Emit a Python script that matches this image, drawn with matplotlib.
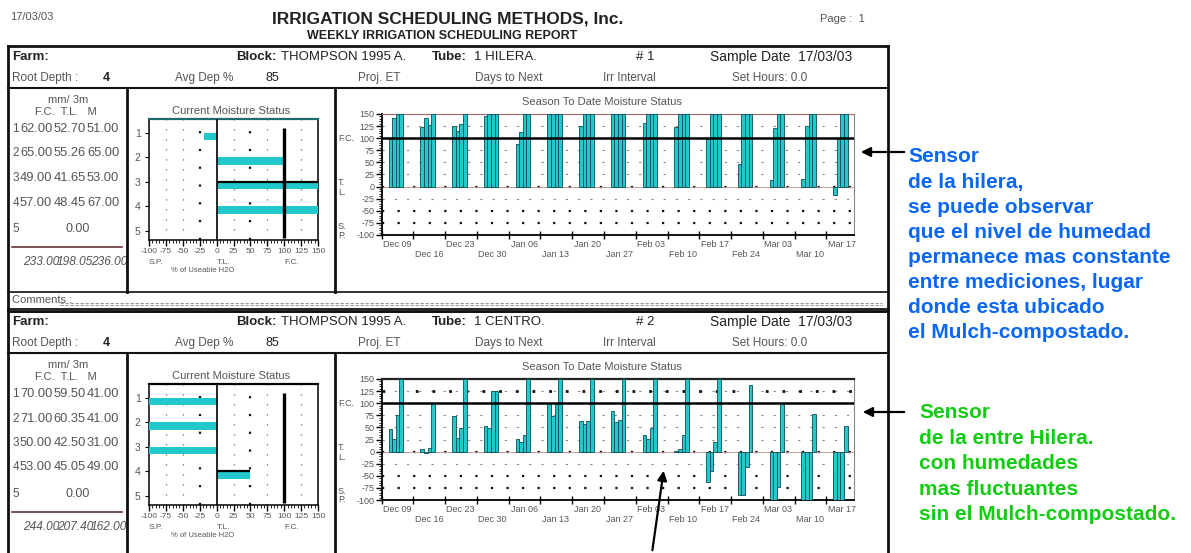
import matplotlib
matplotlib.use('Agg')
import matplotlib.pyplot as plt
from matplotlib import transforms

plt.rcParams['font.family'] = ['Liberation Sans', 'DejaVu Sans']

W, H = 1191, 553

# ---------------- data ----------------
report_date = '17/03/03'
block_name = 'THOMPSON 1995 A.'
tubes = ['1 HILERA.', '1 CENTRO.']
tube_nums = ['# 1', '# 2']
root_depth = '4'
avg_dep = '85'
set_hours = '0.0'

depth_rows = [1, 2, 3, 4]
fc_hilera = [62.00, 65.00, 49.00, 57.00]
tl_hilera = [52.70, 55.26, 41.65, 48.45]
m_hilera = [51.00, 65.00, 53.00, 67.00]
tot_hilera = [233.00, 198.05, 236.00]

fc_centro = [70.00, 71.00, 50.00, 53.00]
tl_centro = [59.50, 60.35, 42.50, 45.05]
m_centro = [41.00, 41.00, 31.00, 49.00]
tot_centro = [244.00, 207.40, 162.00]

# current moisture status, % of useable H2O per depth
cur_hilera = [-18, 100, 150, 150]
cur_centro = [-100, -100, -100, 50]

weeks = ['Dec 09', 'Dec 16', 'Dec 23', 'Dec 30', 'Jan 06', 'Jan 13', 'Jan 20',
         'Jan 27', 'Feb 03', 'Feb 10', 'Feb 17', 'Feb 24', 'Mar 03', 'Mar 10', 'Mar 17']
reading_days = [1.9, 2.7, 3.5, 4.3]   # day of each reading inside the week

season_hilera = [
    [100, 141, 150, 150], [124, 141, 127, 150], [126, 115, 129, 150],
    [145, 150, 150, 150], [89, 112, 150, 150], [150, 150, 150, 150],
    [126, 150, 150, 150], [150, 150, 150, 150], [132, 150, 150, 150],
    [123, 150, 150, 150], [100, 150, 150, 150], [47, 150, 150, 150],
    [14, 122, 150, 150], [15, 125, 150, 150], [-17, 100, 150, 150]]

season_centro = [
    [46, 27, 75, 150], [6, -3, 7, 100], [74, 28, 48, 150],
    [53, 48, 126, 126], [26, 19, 34, 150], [100, 74, 100, 150],
    [64, 58, 64, 150], [84, 62, 65, 150], [34, 26, 48, 150],
    [2, 5, 34, 150], [-63, -41, 20, 150], [-89, -89, -32, 138],
    [-100, -100, -73, 100], [-100, -100, -100, 78], [-100, -100, -100, 52]]

note_hilera = ['Sensor', 'de la hilera,', 'se puede observar', 'que el nivel de humedad',
               'permanece mas constante', 'entre mediciones, lugar',
               'donde esta ubicado', 'el Mulch-compostado.']
note_centro = ['Sensor', 'de la entre Hilera.', 'con humedades',
               'mas fluctuantes', 'sin el Mulch-compostado.']

BAR = '#22c8cc'
EDGE = '#0b4f55'
INK = '#222222'
GREY = '#555555'

fig = plt.figure(figsize=(W / 100, H / 100), dpi=100)
fig.patch.set_facecolor('white')


def add_ax(x0, y0, x1, y1):
    return fig.add_axes([x0 / W, 1 - y1 / H, (x1 - x0) / W, (y1 - y0) / H])


def season_chart(ax, data, top_dark):
    for w, vals in enumerate(data):
        xs = [w * 7 + d for d in reading_days]
        ax.bar(xs, vals, width=0.8, color=BAR, edgecolor=EDGE, linewidth=0.6, zorder=3)
    ax.set_xlim(0, 104)
    ax.set_ylim(-100, 150)
    for lv in [125, 75, 50, 25, -25]:
        ax.axhline(lv, color='#888888', lw=0.8, ls=(0, (2, 9)), zorder=1)
    for lv in [-50, -75, 0]:
        ax.axhline(lv, color='#111111', lw=1.6, ls=(0, (1, 6)), zorder=1)
    if top_dark:
        ax.axhline(125, color='#111111', lw=2, ls=(0, (1, 5)), zorder=1)
    ax.axhline(0, color='#cc8888', lw=0.6, zorder=2)
    ax.axhline(100, color='black', lw=1.8, zorder=4)
    ax.set_yticks(range(-100, 151, 25))
    ax.set_yticks(range(-100, 151, 5), minor=True)
    ax.set_yticklabels([str(v) for v in range(-100, 151, 25)], fontsize=6.5, color=GREY)
    ax.set_xticks([w * 7 for w in range(len(weeks))])
    ax.set_xticks(range(0, 104), minor=True)
    ax.set_xticklabels([])
    ax.tick_params(axis='y', which='major', length=4, width=1, pad=1)
    ax.tick_params(axis='y', which='minor', length=2, width=0.6)
    ax.tick_params(axis='x', which='major', direction='inout', length=6, width=1)
    ax.tick_params(axis='x', which='minor', length=0)
    for s in ['left', 'bottom']:
        ax.spines[s].set_linewidth(1.3)
    ax.spines['right'].set_color('#888888')
    ax.spines['right'].set_linewidth(0.8)
    ax.spines['top'].set_color('#222222' if top_dark else '#aa6666')
    ax.spines['top'].set_linewidth(1.6 if top_dark else 0.8)
    tr = transforms.blended_transform_factory(ax.transData, ax.transAxes)
    for w, lab in enumerate(weeks):
        yy = -0.075 if w % 2 == 0 else -0.16
        ax.text(w * 7 + 3.4, yy, lab, transform=tr, ha='center', va='center',
                fontsize=6.5, color=GREY)
    ty = transforms.blended_transform_factory(ax.transAxes, ax.transData)
    ax.text(-0.093, 100, 'F.C.', transform=ty, fontsize=6.5, color=GREY, va='center')
    for lab, yv in [('T.', 8), ('L.', -12), ('S.', -82), ('P.', -100)]:
        ax.text(-0.093, yv, lab, transform=ty, fontsize=6.5, color=GREY, va='center')


def moisture_chart(ax, vals, edge_row, top_teal):
    ax.barh(depth_rows, vals, height=0.3, align='edge', color=BAR, zorder=3)
    ax.hlines(edge_row, 0, vals[edge_row - 1], color='black', lw=1.6, zorder=4)
    ax.set_xlim(-100, 150)
    ax.set_ylim(5.37, 0.43)
    for xv in [-75, -50, -25, 25, 50, 75, 125]:
        bold = xv in (-25, 50)
        ax.axvline(xv, color='#111111' if bold else '#666666', lw=1.6 if bold else 0.9,
                   ls=(0, (1, 7)), zorder=1)
    ax.axvline(0, color='black', lw=1.2, zorder=4)
    ax.vlines(100, 0.8, 5.3, color='black', lw=2.4, zorder=4)
    ax.set_xticks(range(-100, 151, 25))
    ax.set_xticks(range(-100, 151, 5), minor=True)
    ax.set_xticklabels(['-100', '-75', '-50', '-25', '0', '25', '50', '75', '100', '125', '150'],
                       fontsize=6, color=GREY)
    ax.set_yticks([1, 2, 3, 4, 5])
    ax.set_yticklabels(['1', '2', '3', '4', '5'], fontsize=7.5, color=GREY)
    ax.tick_params(axis='x', which='major', length=4, width=1, pad=2)
    ax.tick_params(axis='x', which='minor', length=2, width=0.6)
    ax.tick_params(axis='y', length=3, pad=3)
    for s in ['left', 'bottom', 'right']:
        ax.spines[s].set_linewidth(1.1)
    ax.spines['top'].set_color('#1d6b6b' if top_teal else 'black')
    ax.spines['top'].set_linewidth(1.6)
    tr = transforms.blended_transform_factory(ax.transData, ax.transAxes)
    for lab, xv in [('S.P.', -100), ('T.L.', 0), ('F.C.', 100)]:
        ax.text(xv, -0.19, lab, transform=tr, fontsize=6, color=GREY, ha='left', va='center')
    ax.text(-20, -0.25, '% of Useable H2O', transform=tr, fontsize=5.5, color=GREY,
            ha='center', va='center')


def depth_table(dy, fc, tl, mm, tot):
    # text panel clipped at the panel border, like the printout
    ta = add_ax(9, 88 + dy, 127, 292 + dy)
    ta.set_xlim(9, 127)
    ta.set_ylim(292 + dy, 88 + dy)
    ta.axis('off')
    ta.text(68, 100 + dy, 'mm/ 3m', fontsize=8, color=GREY, ha='center', va='center')
    ta.text(66, 112 + dy, 'F.C.  T.L.   M', fontsize=8, color=GREY, ha='center', va='center')
    cols = [20, 53.5, 87]
    for i, r in enumerate(depth_rows):
        yy = 129 + dy + i * 24.5
        ta.text(12.5, yy, str(r), fontsize=8.5, color=GREY, va='center')
        for x, v in zip(cols, [fc[i], tl[i], mm[i]]):
            ta.text(x, yy, '%.2f' % v, fontsize=9.3, color=GREY, va='center', clip_on=True)
    ta.text(12.5, 229 + dy, '5', fontsize=8.5, color=GREY, va='center')
    ta.text(65, 229 + dy, '0.00', fontsize=9, color=GREY, va='center')
    ta.plot([12, 122], [247 + dy, 247 + dy], color='#663333', lw=1.2)
    for x, v in zip([23, 57, 91], tot):
        ta.text(x, 262 + dy, '%.2f' % v, fontsize=8.6, style='italic', color=GREY,
                va='center', clip_on=True)


# page layer (drawn on top, transparent)
page = fig.add_axes([0, 0, 1, 1])
page.set_xlim(0, W)
page.set_ylim(H, 0)
page.axis('off')
page.set_zorder(10)
page.patch.set_alpha(0)

page.text(10, 17, report_date, fontsize=8, color=GREY, va='center')
page.text(448, 19, 'IRRIGATION SCHEDULING METHODS, Inc.', fontsize=12.5, fontweight='bold',
          color=INK, ha='center', va='center')
page.text(442, 36, 'WEEKLY IRRIGATION SCHEDULING REPORT', fontsize=9, fontweight='bold',
          color=INK, ha='center', va='center')
page.text(820, 19, 'Page :  1', fontsize=8, color=GREY, va='center')

blocks = [
    (0, tubes[0], tube_nums[0], fc_hilera, tl_hilera, m_hilera, tot_hilera,
     cur_hilera, 3, True, season_hilera, False),
    (265, tubes[1], tube_nums[1], fc_centro, tl_centro, m_centro, tot_centro,
     cur_centro, 4, False, season_centro, True),
]

for dy, tube, num, fc, tl, mm, tot, cur, erow, teal, season, dark in blocks:
    # frame lines
    page.plot([8, 888], [46 + dy, 46 + dy], color='#111111', lw=2)
    page.plot([8, 888], [88 + dy, 88 + dy], color='#111111', lw=1.5)
    bottom = 292 + dy if dy == 0 else H
    page.plot([127, 127], [88 + dy, bottom], color='#111111', lw=2)
    page.plot([335, 335], [88 + dy, bottom], color='#111111', lw=2)
    # header rows
    y1 = 57 + dy
    page.text(12, y1, 'Farm:', fontsize=9.5, fontweight='bold', color=INK, va='center')
    page.text(236, y1, 'Block:', fontsize=9.5, fontweight='bold', color=INK, va='center')
    page.text(281, y1, block_name, fontsize=9.5, color=INK, va='center')
    page.text(432, y1, 'Tube:', fontsize=9.5, fontweight='bold', color=INK, va='center')
    page.text(474, y1, tube, fontsize=9.5, color=INK, va='center')
    page.text(636, y1, num, fontsize=9.5, color=INK, va='center')
    page.text(710, y1, 'Sample Date  ' + report_date, fontsize=10, color=INK, va='center')
    y2 = 78 + dy
    page.text(12, y2, 'Root Depth :', fontsize=8.5, color=GREY, va='center')
    page.text(103, y2, root_depth, fontsize=9, fontweight='bold', color=INK, va='center')
    page.text(175, y2, 'Avg Dep %', fontsize=8.5, color=GREY, va='center')
    page.text(265, y2, avg_dep, fontsize=9, color=INK, va='center')
    page.text(358, y2, 'Proj. ET', fontsize=8.5, color=GREY, va='center')
    page.text(475, y2, 'Days to Next', fontsize=8.5, color=GREY, va='center')
    page.text(603, y2, 'Irr Interval', fontsize=8.5, color=GREY, va='center')
    page.text(732, y2, 'Set Hours: ' + set_hours, fontsize=8.5, color=GREY, va='center')
    page.text(231, 111 + dy, 'Current Moisture Status', fontsize=8, color=GREY,
              ha='center', va='center')
    page.text(602, 102 + dy, 'Season To Date Moisture Status', fontsize=8, color=GREY,
              ha='center', va='center')

    depth_table(dy, fc, tl, mm, tot)
    ma = add_ax(149, 119 + dy, 318, 240 + dy)
    moisture_chart(ma, cur, erow, teal)
    sa = add_ax(381.7, 114 + dy, 853.5, 235 + dy)
    sa.patch.set_alpha(0)
    season_chart(sa, season, dark)

# outer borders and comments row
page.plot([8, 8], [46, H], color='#111111', lw=2)
page.plot([888, 888], [46, H], color='#111111', lw=2)
page.plot([8, 888], [292, 292], color='#111111', lw=1.2)
page.text(12, 300, 'Comments :', fontsize=8, color=GREY, va='center')
page.plot([60, 882], [303, 303], color='#999999', lw=0.8, ls=(0, (3, 1.5)))
page.plot([60, 882], [305, 305], color='#999999', lw=0.8, ls=(0, (3, 1.5)))
page.plot([8, 888], [309, 309], color='#111111', lw=1.3)
page.plot([8, 888], [311.5, 311.5], color='#111111', lw=1.3)

# annotations
arrow = dict(arrowstyle='-|>', color='black', lw=1.6, mutation_scale=14)
page.annotate('', xy=(858, 152), xytext=(907, 152), arrowprops=arrow)
page.annotate('', xy=(860, 412), xytext=(907, 412), arrowprops=arrow)
page.annotate('', xy=(664, 468), xytext=(652, 553), arrowprops=arrow)
for i, line in enumerate(note_hilera):
    page.text(908, 157 + i * 25.1, line, fontsize=15, fontweight='bold',
              color='#0a66f5', va='center')
for i, line in enumerate(note_centro):
    page.text(919, 413 + i * 25.4, line, fontsize=15, fontweight='bold',
              color='#11cc11', va='center')

fig.savefig('out.png', dpi=100)
